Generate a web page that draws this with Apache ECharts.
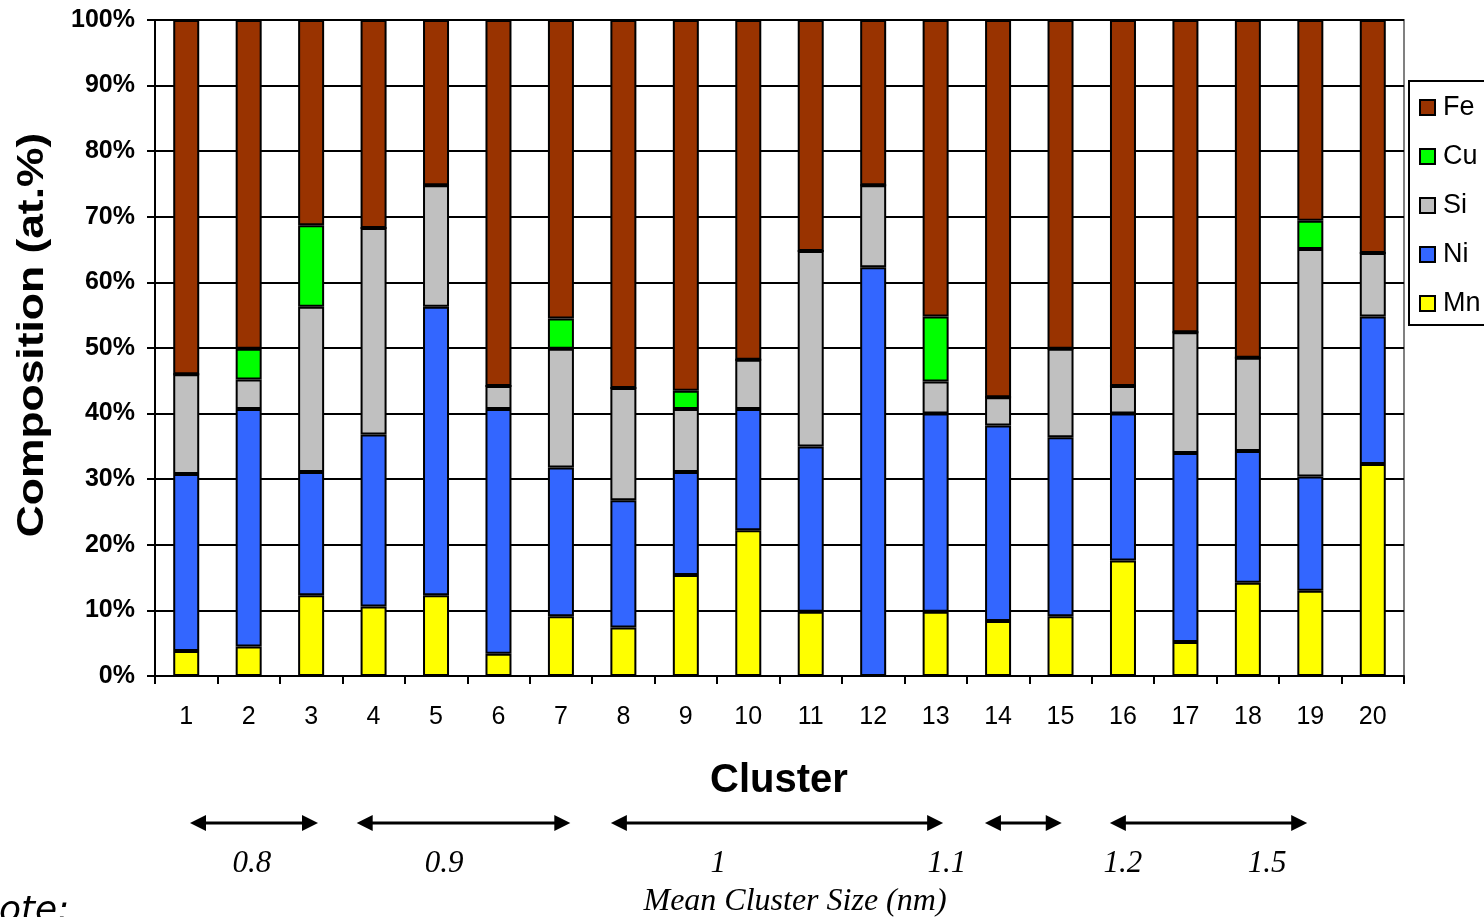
<!DOCTYPE html>
<html><head><meta charset="utf-8">
<script src="https://cdn.jsdelivr.net/npm/echarts@6/dist/echarts.min.js"></script>
<style>html,body{margin:0;padding:0;background:#fff;overflow:hidden}#c{width:1484px;height:917px}</style>
</head><body><div id="c"></div>
<script>
const categories = ['1','2','3','4','5','6','7','8','9','10','11','12','13','14','15','16','17','18','19','20'];
const Mn = [3.8,4.5,12.3,10.6,12.3,3.4,9.1,7.4,15.4,22.2,9.8,0,9.8,8.4,9.1,17.6,5.2,14.2,13.0,32.3];
const Ni = [27.0,36.2,18.8,26.2,44.0,37.3,22.7,19.4,15.7,18.5,25.2,62.3,30.2,29.8,27.3,22.4,28.8,20.1,17.4,22.5];
const Si = [15.2,4.5,25.2,31.5,18.5,3.5,18.1,17.1,9.6,7.5,29.8,12.5,4.9,4.3,13.5,4.2,18.4,14.2,34.7,9.7];
const Cu = [0,4.7,12.4,0,0,0,4.6,0,2.8,0,0,0,9.9,0,0,0,0,0,4.3,0];
const Fe = [54.0,50.1,31.3,31.7,25.2,55.8,45.5,56.1,56.5,51.8,35.2,25.2,45.2,57.5,50.1,55.8,47.6,51.5,30.6,35.5];
const yTicks = [0,10,20,30,40,50,60,70,80,90,100];
// Mean cluster size annotation: arrow spans and label positions in cluster units
const sizeArrows = [[1.06,3.11],[3.73,7.15],[7.80,13.12],[13.79,15.02],[15.79,18.95]];
const sizeLabels = ['0.8','0.9','1','1.1','1.2','1.5'];
const sizeLabelPos = [2.05,5.13,9.52,13.18,16.0,18.31];

const colors = {Fe:'#993300', Cu:'#00ff00', Si:'#c0c0c0', Ni:'#3366ff', Mn:'#ffff00'};
const chart = echarts.init(document.getElementById('c'));
function ser(name, data){
  return {name, type:'bar', stack:'a', data, barWidth:26,
    itemStyle:{color:colors[name], borderColor:'#000', borderWidth:2}, emphasis:{disabled:true}};
}
chart.setOption({
  animation:false,
  grid:{left:155, right:80, top:20, bottom:241, show:true, borderColor:'#808080', borderWidth:2},
  legend:{orient:'vertical', left:1409, top:81, data:['Fe','Cu','Si','Ni','Mn'], icon:'rect',
    borderColor:'#000', borderWidth:2, padding:[13,30,8,10], itemGap:22, itemWidth:15, itemHeight:15,
    textStyle:{fontFamily:'Liberation Sans', fontSize:27, color:'#000', padding:[0,0,0,3]}},
  xAxis:{type:'category', data:categories,
    axisLine:{lineStyle:{color:'#000', width:2}},
    axisTick:{show:true, length:8, lineStyle:{color:'#000', width:2}},
    axisLabel:{fontFamily:'Liberation Sans', fontSize:25, color:'#000', margin:29}},
  yAxis:{type:'value', min:0, max:100, interval:10,
    axisLine:{show:true, lineStyle:{color:'#000', width:2}},
    axisTick:{show:true, length:8, lineStyle:{color:'#000', width:2}},
    axisLabel:{formatter:'{value}%', fontFamily:'Liberation Sans', fontWeight:'bold', fontSize:25, color:'#000', margin:20},
    splitLine:{lineStyle:{color:'#000', width:2}}},
  series:[ser('Mn',Mn), ser('Ni',Ni), ser('Si',Si), ser('Cu',Cu), ser('Fe',Fe)]
});
function px(v){
  const a = chart.convertToPixel({xAxisIndex:0}, 0);
  const b = chart.convertToPixel({xAxisIndex:0}, 1);
  return a + (v-1)*(b-a);
}
const g = [];
g.push({type:'text', x:33, y:335, rotation:Math.PI/2, scaleX:1.2, style:{text:'Composition (at.%)', font:'bold 37px "Liberation Sans"', fill:'#000', textAlign:'center', textVerticalAlign:'middle'}});
g.push({type:'text', x:779, y:781, style:{text:'Cluster', font:'bold 40px "Liberation Sans"', fill:'#000', textAlign:'center', textVerticalAlign:'middle'}});
const ay = 823;
sizeArrows.forEach(([s,e])=>{
  const x1 = px(s), x2 = px(e);
  g.push({type:'line', shape:{x1:x1+10, y1:ay, x2:x2-10, y2:ay}, style:{stroke:'#000', lineWidth:3}});
  g.push({type:'polygon', shape:{points:[[x1,ay],[x1+16,ay-8],[x1+16,ay+8]]}, style:{fill:'#000'}});
  g.push({type:'polygon', shape:{points:[[x2,ay],[x2-16,ay-8],[x2-16,ay+8]]}, style:{fill:'#000'}});
});
sizeLabels.forEach((t,i)=>{
  g.push({type:'text', x:px(sizeLabelPos[i]), y:864, style:{text:t, font:'italic 31px "Liberation Serif"', fill:'#000', textAlign:'center', textVerticalAlign:'middle'}});
});
g.push({type:'text', x:795, y:902, style:{text:'Mean Cluster Size (nm)', font:'italic 32px "Liberation Serif"', fill:'#000', textAlign:'center', textVerticalAlign:'middle'}});
g.push({type:'text', x:-28, y:912, style:{text:'Note:', font:'italic 36px "DejaVu Sans"', fill:'#000', textAlign:'left', textVerticalAlign:'middle'}});
chart.setOption({graphic:g});
</script></body></html>
